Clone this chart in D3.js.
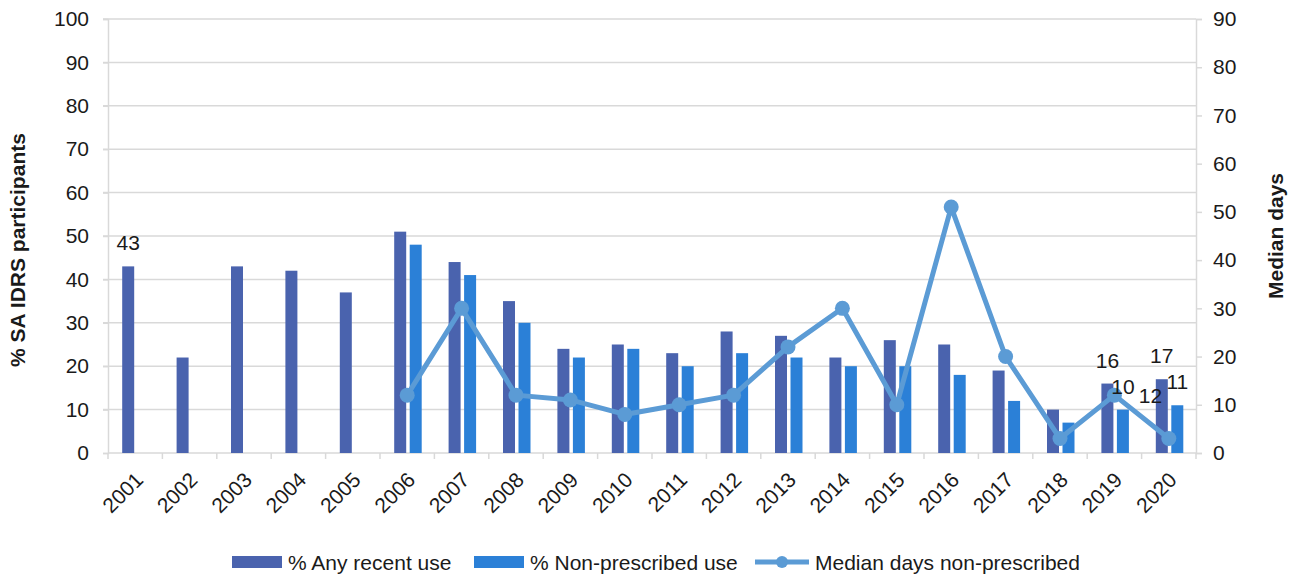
<!DOCTYPE html>
<html><head><meta charset="utf-8">
<script src="https://cdn.jsdelivr.net/npm/d3@7"></script>
<style>
html,body{margin:0;padding:0;background:#fff;}
svg{display:block;font-family:"Liberation Sans",Arial,sans-serif;}
</style></head>
<body><svg id="chart" width="1300" height="577"></svg>
<script>
const years = ["2001","2002","2003","2004","2005","2006","2007","2008","2009","2010","2011","2012","2013","2014","2015","2016","2017","2018","2019","2020"];
const anyUse = [43,22,43,42,37,51,44,35,24,25,23,28,27,22,26,25,19,10,16,17];
const nonPrescribed = [null,null,null,null,null,48,41,30,22,24,20,23,22,20,20,18,12,7,10,11];
const medianDays = [null,null,null,null,null,12,30,12,11,8,10,12,22,30,10,51,20,3,12,3];
const leftTicks = [0,10,20,30,40,50,60,70,80,90,100];
const rightTicks = [0,10,20,30,40,50,60,70,80,90];
const seriesNames = ["% Any recent use","% Non-prescribed use","Median days non-prescribed"];
const colors = {any:"#4A63AE", non:"#2B80D7", line:"#5B9BD5", grid:"#D9D9D9", text:"#1a1a1a"};

const svg = d3.select("#chart");
const L = 108, R = 1196, T = 19, B = 453;
const x = d3.scaleBand().domain(years).range([L, R]).padding(0);
const yL = d3.scaleLinear().domain([0,100]).range([B, T]);
const yR = d3.scaleLinear().domain([0,90]).range([B, T]);
const FS = 21;

// gridlines
svg.append("g").selectAll("line").data(leftTicks.filter(d=>d>0)).join("line")
  .attr("x1", L-5).attr("x2", R).attr("y1", d=>yL(d)).attr("y2", d=>yL(d))
  .attr("stroke", colors.grid).attr("stroke-width", 1.5);

// left axis
const gl = svg.append("g").attr("transform", `translate(${L},0)`)
  .call(d3.axisLeft(yL).tickValues(leftTicks).tickSize(5).tickPadding(14));
gl.select(".domain").attr("stroke", colors.grid).attr("stroke-width",1.5);
gl.selectAll(".tick line").attr("stroke", colors.grid).attr("stroke-width",1.5);
gl.selectAll("text").attr("font-size", FS).attr("fill", colors.text).attr("font-family","Liberation Sans, Arial, sans-serif");

// right axis
const gr = svg.append("g").attr("transform", `translate(${R},0)`)
  .call(d3.axisRight(yR).tickValues(rightTicks).tickSize(6).tickPadding(11));
gr.select(".domain").attr("stroke", colors.grid).attr("stroke-width",1.5);
gr.selectAll(".tick line").attr("stroke", colors.grid).attr("stroke-width",1.5);
gr.selectAll("text").attr("font-size", FS).attr("fill", colors.text).attr("font-family","Liberation Sans, Arial, sans-serif");

// bottom axis
svg.append("line").attr("x1", L).attr("x2", R).attr("y1", B).attr("y2", B)
  .attr("stroke", colors.grid).attr("stroke-width", 1.5);
svg.append("g").selectAll("line").data(years.concat(["end"])).join("line")
  .attr("x1", (d,i)=> L + i*x.bandwidth()).attr("x2", (d,i)=> L + i*x.bandwidth())
  .attr("y1", B).attr("y2", B+6).attr("stroke", colors.grid).attr("stroke-width",1.5);
svg.append("g").selectAll("text").data(years).join("text")
  .attr("transform", d=>`translate(${x(d)+x.bandwidth()/2+4},476) rotate(-45)`)
  .attr("text-anchor","end").attr("dy","0.35em")
  .attr("font-size", FS).attr("fill", colors.text).text(d=>d);

// bars
const cx = d => x(d) + x.bandwidth()/2;
svg.append("g").selectAll("rect").data(years.map((y,i)=>({y, v:anyUse[i]}))).join("rect")
  .attr("x", d=>cx(d.y)-13).attr("width", 12)
  .attr("y", d=>yL(d.v)).attr("height", d=>B-yL(d.v))
  .attr("fill", colors.any);
svg.append("g").selectAll("rect").data(years.map((y,i)=>({y, v:nonPrescribed[i]})).filter(d=>d.v!=null)).join("rect")
  .attr("x", d=>cx(d.y)+2.5).attr("width", 12)
  .attr("y", d=>yL(d.v)).attr("height", d=>B-yL(d.v))
  .attr("fill", colors.non);

// line
const pts = years.map((y,i)=>({y, v:medianDays[i]})).filter(d=>d.v!=null);
svg.append("path").datum(pts)
  .attr("d", d3.line().x(d=>cx(d.y)).y(d=>yR(d.v)))
  .attr("fill","none").attr("stroke", colors.line).attr("stroke-width",5).attr("stroke-linejoin","round");
svg.append("g").selectAll("circle").data(pts).join("circle")
  .attr("cx", d=>cx(d.y)).attr("cy", d=>yR(d.v)).attr("r", 7.5).attr("fill", colors.line);

// data labels
const lab = svg.append("g").attr("font-size", FS).attr("fill", colors.text).attr("text-anchor","middle");
[0,18,19].forEach(i=>{
  lab.append("text").attr("x", cx(years[i])-7).attr("y", yL(anyUse[i])-16).text(anyUse[i]);
});
[18,19].forEach(i=>{
  lab.append("text").attr("x", cx(years[i])+8.5).attr("y", yL(nonPrescribed[i])-16).text(nonPrescribed[i]);
});
lab.append("text").attr("x", cx(years[18])+36).attr("y", yR(medianDays[18])+8).text(medianDays[18]);

// axis titles
svg.append("text").attr("transform", `translate(25,${(T+B)/2+14}) rotate(-90)`)
  .attr("text-anchor","middle").attr("font-size", FS).attr("font-weight","bold").attr("fill", colors.text)
  .text("% SA IDRS participants");
svg.append("text").attr("transform", `translate(1283,${(T+B)/2}) rotate(-90)`)
  .attr("text-anchor","middle").attr("font-size", FS).attr("font-weight","bold").attr("fill", colors.text)
  .text("Median days");

// legend
const lg = svg.append("g").attr("font-size", FS).attr("fill", colors.text);
lg.append("rect").attr("x",232).attr("y",556).attr("width",50).attr("height",12).attr("fill",colors.any);
lg.append("text").attr("x",288).attr("y",570).text(seriesNames[0]);
lg.append("rect").attr("x",474).attr("y",556).attr("width",50).attr("height",12).attr("fill",colors.non);
lg.append("text").attr("x",530).attr("y",570).text(seriesNames[1]);
lg.append("line").attr("x1",755).attr("x2",809).attr("y1",562).attr("y2",562).attr("stroke",colors.line).attr("stroke-width",5);
lg.append("circle").attr("cx",782).attr("cy",562).attr("r",6).attr("fill",colors.line);
lg.append("text").attr("x",815).attr("y",570).text(seriesNames[2]);
</script></body></html>
